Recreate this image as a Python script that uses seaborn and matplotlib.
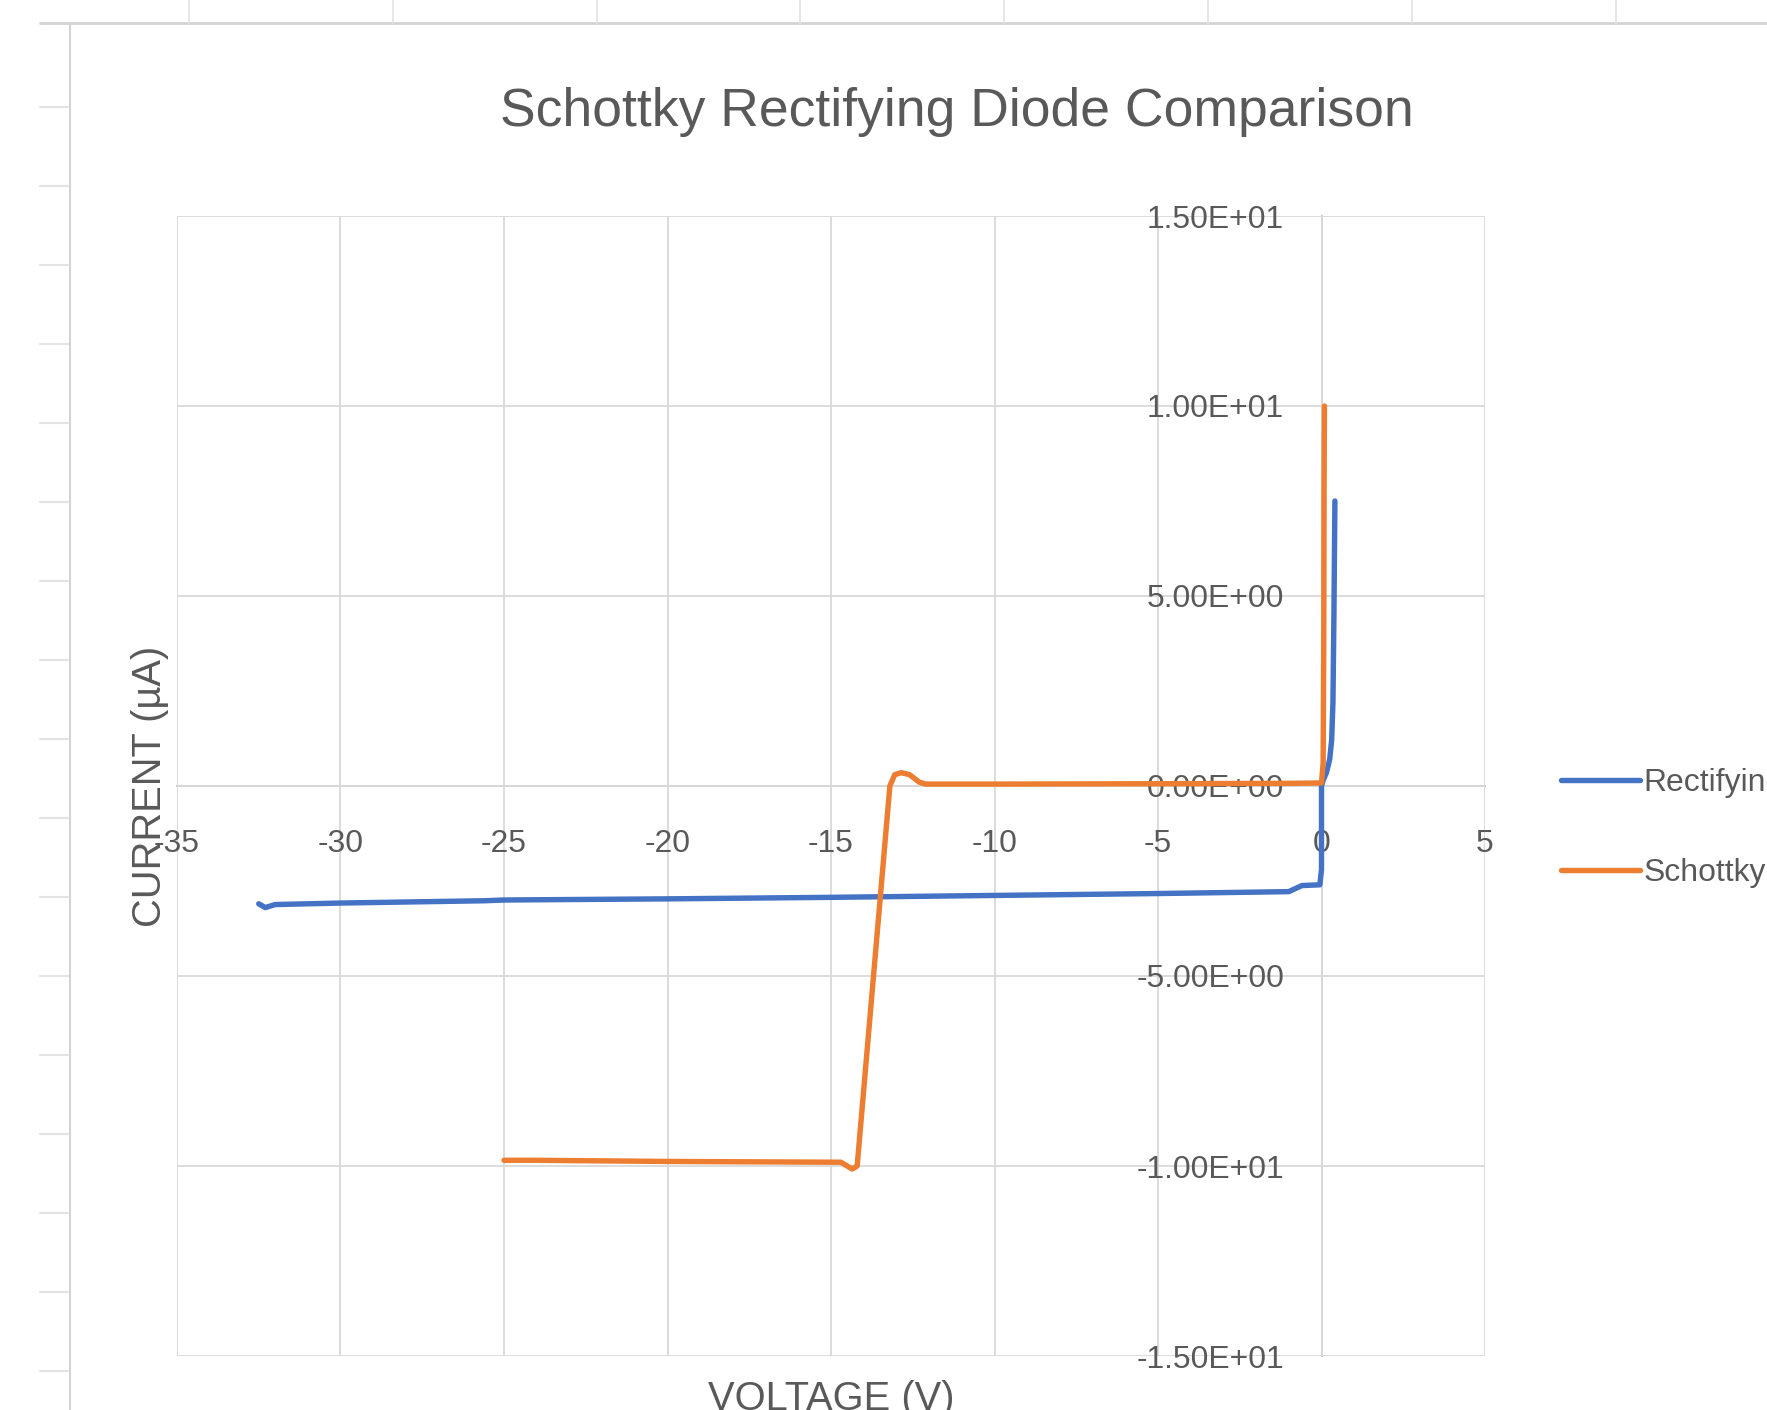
import matplotlib
matplotlib.use("Agg")
import numpy as np
import pandas as pd
import seaborn as sns
import matplotlib.pyplot as plt
from matplotlib.ticker import FuncFormatter, FixedLocator
from matplotlib.lines import Line2D
from matplotlib import font_manager

# ---------------- data ----------------
series_names = ["Rectifying", "Schottky"]

rect_voltage = [-32.5, -32.3, -32.0, -30.0, -25.6, -25.0, -20.0, -15.0, -10.0, -5.0,
                -1.0, -0.8, -0.6, -0.05, 0.0, 0.0, 0.05, 0.15, 0.25, 0.31, 0.35, 0.38, 0.40, 0.41]
rect_current = [-3.10, -3.20, -3.12, -3.08, -3.02, -3.00, -2.97, -2.93, -2.88, -2.83,
                -2.78, -2.70, -2.62, -2.60, -2.20, 0.00, 0.15, 0.35, 0.70, 1.20, 2.20, 4.50, 6.50, 7.50]

schottky_voltage = [-25.0, -24.0, -20.0, -15.0, -14.7, -14.35, -14.2, -13.7, -13.2, -13.05,
                    -12.85, -12.6, -12.3, -12.1, -10.0, -5.0, -1.0, 0.0, 0.05, 0.07, 0.08, 0.09]
schottky_current = [-9.85, -9.85, -9.88, -9.90, -9.90, -10.08, -10.0, -5.0, 0.0, 0.30,
                    0.35, 0.30, 0.10, 0.05, 0.05, 0.06, 0.07, 0.08, 0.6, 4.0, 8.0, 10.0]

x_ticks = [-35, -30, -25, -20, -15, -10, -5, 0, 5]
y_ticks = [-15, -10, -5, 0, 5, 10, 15]

title_text = "Schottky Rectifying Diode Comparison"
x_label = "VOLTAGE (V)"
y_label = "CURRENT (\u00b5A)"

colors = {"Rectifying": "#4472C4", "Schottky": "#ED7D31"}

# ---------------- fonts ----------------
names = {f.name for f in font_manager.fontManager.ttflist}
if "Liberation Sans Narrow" in names:
    fam = ["Liberation Sans Narrow", "DejaVu Sans"]
    k = 1.0
else:
    fam = ["Liberation Sans", "DejaVu Sans"]
    k = 0.82

sns.set_theme(style="white")
plt.rcParams["font.family"] = fam

text_col = "#595959"
grid_col = "#D9D9D9"

df = pd.concat([
    pd.DataFrame({"Voltage": rect_voltage, "Current": rect_current, "Series": series_names[0]}),
    pd.DataFrame({"Voltage": schottky_voltage, "Current": schottky_current, "Series": series_names[1]}),
], ignore_index=True)

fig = plt.figure(figsize=(17.67, 14.10), dpi=100)
fig.patch.set_facecolor("white")
W, H = 1767, 1410
ax = fig.add_axes([177 / W, 1 - 1356 / H, (1485 - 177) / W, (1356 - 216) / H])

sns.lineplot(data=df, x="Voltage", y="Current", hue="Series", palette=colors,
             sort=False, estimator=None, units="Series", linewidth=3.9, ax=ax)
for ln in ax.get_lines():
    ln.set_solid_joinstyle("round")
    ln.set_solid_capstyle("round")

ax.set_xlim(-35, 5)
ax.set_ylim(-15, 15)
ax.xaxis.set_major_locator(FixedLocator(x_ticks))
ax.yaxis.set_major_locator(FixedLocator(y_ticks))
ax.yaxis.set_major_formatter(FuncFormatter(lambda v, p: f"{v:.2E}"))
ax.xaxis.set_major_formatter(FuncFormatter(lambda v, p: f"{int(round(v))}"))
ax.grid(True, color=grid_col, linewidth=1.3)
ax.set_axisbelow(True)

for s in ["top", "right"]:
    ax.spines[s].set_visible(False)
ax.spines["left"].set_position(("data", 0))
ax.spines["bottom"].set_position(("data", 0))
for s in ["left", "bottom"]:
    ax.spines[s].set_color("#BFBFBF")
    ax.spines[s].set_linewidth(1.3)
    ax.spines[s].set_zorder(0.5)

ax.tick_params(axis="both", length=0, labelcolor=text_col, labelsize=28 * k)
ax.tick_params(axis="x", pad=31)
ax.tick_params(axis="y", pad=27)

ax.set_xlabel(x_label, fontsize=35 * k, color=text_col)
ax.set_ylabel(y_label, fontsize=35 * k, color=text_col)
ax.xaxis.set_label_coords(0.5, -0.021)
ax.yaxis.set_label_coords((150 - 177) / 1308, 0.5)
ax.yaxis.label.set_va("center")

leg = ax.legend(loc="center left", bbox_to_anchor=(1.048, 0.463), frameon=False,
                fontsize=28 * k, handlelength=2.5, handletextpad=0.1, labelspacing=1.9,
                borderaxespad=0, title=None)
for t in leg.get_texts():
    t.set_color(text_col)
for h in leg.get_lines():
    h.set_linewidth(3.9)

fig.text(957 / W, 1 - 112 / H, title_text, ha="center", va="center",
         fontsize=47 * k, color=text_col)

# chart area border and spreadsheet cell lines behind it
cell_col = "#D4D4D4"
fig.add_artist(Line2D([70 / W, 70 / W], [0, 1 - 23 / H], color=cell_col, lw=1.5, transform=fig.transFigure))
fig.add_artist(Line2D([40 / W, 1], [1 - 23 / H, 1 - 23 / H], color=cell_col, lw=2.0, transform=fig.transFigure))
for cx in [189, 393, 597, 800, 1004, 1208, 1412, 1616]:
    fig.add_artist(Line2D([cx / W, cx / W], [1 - 23 / H, 1], color="#E3E3E3", lw=1.2, transform=fig.transFigure))
for ry in range(107, 1410, 79):
    fig.add_artist(Line2D([40 / W, 68 / W], [1 - ry / H, 1 - ry / H], color="#E3E3E3", lw=1.5, transform=fig.transFigure))

fig.savefig("out.png", dpi=100, facecolor="white")
